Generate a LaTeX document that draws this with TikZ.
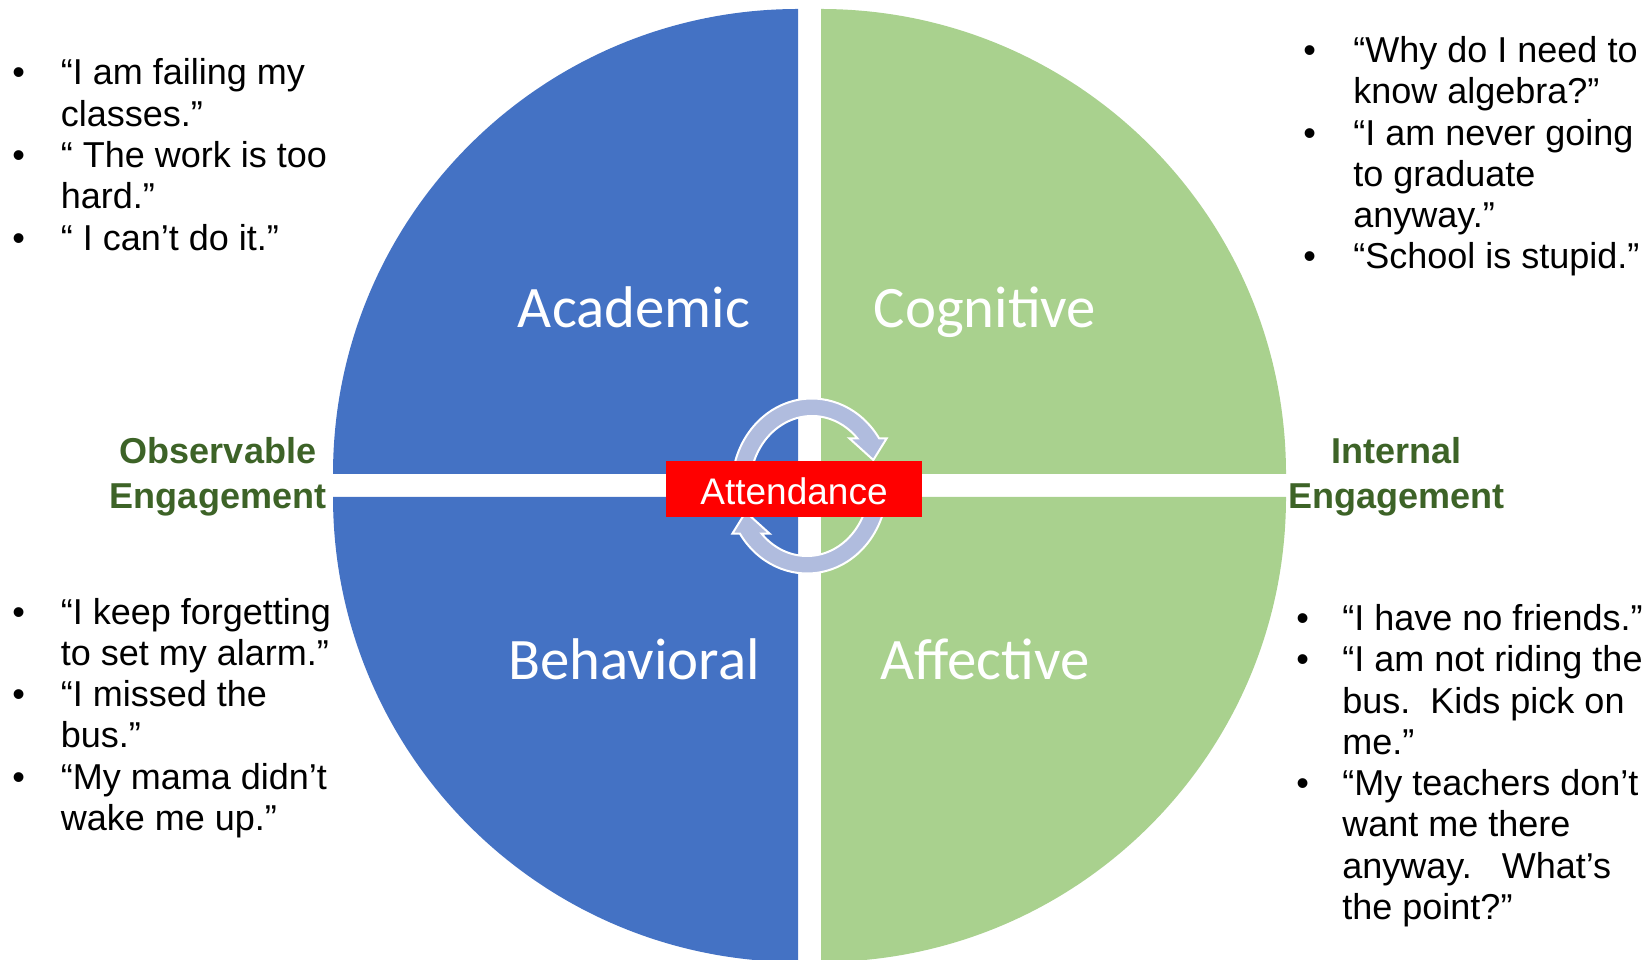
\documentclass[tikz,border=0pt]{standalone}
\usepackage{fontspec}
\setmainfont{Liberation Sans}
\newfontfamily\calibri{Carlito}
\usepackage{tikz}

\definecolor{acadblue}{HTML}{4472C4}
\definecolor{cogngreen}{HTML}{A9D18E}
\definecolor{sidegreen}{RGB}{61,99,39}
\definecolor{cyclefill}{RGB}{176,188,222}

\begin{document}
\begin{tikzpicture}[x=0.5pt,y=0.5pt,
    qlabel/.style={anchor=base,inner sep=0pt,text=white,font=\calibri\fontsize{29.4}{34}\selectfont},
    side/.style={anchor=base,inner sep=0pt,text=sidegreen,font=\bfseries\fontsize{18}{22.5}\selectfont},
    quote/.style={anchor=base west,inner sep=0pt,font=\fontsize{18}{20.65}\selectfont},
    cycle arrow/.style={fill=cyclefill,draw=white,line width=1pt,line join=miter}]
  \useasboundingbox (0,0) rectangle (1652,959);
  % four quarters
  \fill[acadblue] (798,485) -- ++(-465,0) arc[start angle=180,end angle=90,radius=232.5pt] -- cycle;
  \fill[cogngreen] (821,485) -- ++(0,465) arc[start angle=90,end angle=0,radius=232.5pt] -- cycle;
  \fill[acadblue] (798,462) -- ++(0,-465) arc[start angle=270,end angle=180,radius=232.5pt] -- cycle;
  \fill[cogngreen] (821,462) -- ++(465,0) arc[start angle=0,end angle=-90,radius=232.5pt] -- cycle;
  \node[qlabel] (acad) at (634,631) {Academic};
  \node[qlabel] (cogn) at (985,631) {Cognitive};
  \node[qlabel] (behav) at (634,279.5) {Behavioral};
  \node[qlabel] (affect) at (985,279.5) {Affective};
  % the two turning arrows
  \foreach \turn in {0,180}
    \draw[cycle arrow,shift={(809.5,473)},rotate=\turn] (-76.28,-15.19)
      arc[start angle=190,end angle=33,x radius=40pt,y radius=43.75pt]
      -- (77.2,47.7) -- (63.8,26) -- (39.8,47.7) -- (47.87,47.7)
      arc[start angle=42.96,end angle=190,x radius=31pt,y radius=35pt] -- cycle;
  \node[fill=red,text=white,minimum width=128pt,minimum height=28pt,inner sep=0pt,
    text height=16pt,font=\fontsize{18.5}{22}\selectfont] (attend) at (794,470) {Attendance};
  % side labels
  \node[side] (observ) at (218,495) {\begin{tabular}[t]{@{}c@{}}Observable\\Engagement\end{tabular}};
  \node[side] (intern) at (1396,495) {\begin{tabular}[t]{@{}c@{}}Internal\\Engagement\end{tabular}};
  % what the students say
  \node[quote] (acadq) at (12,874) {\begin{tabular}[t]{@{}p{24.25pt}@{}l@{}}
    \textbullet & “I am failing my\\
     & classes.”\\
    \textbullet & “ The work is too\\
     & hard.”\\
    \textbullet & “ I can’t do it.”
  \end{tabular}};
  \node[quote] (cognq) at (1303,896.5) {\begin{tabular}[t]{@{}p{25pt}@{}l@{}}
    \textbullet & “Why do I need to\\
     & know algebra?”\\
    \textbullet & “I am never going\\
     & to graduate\\
     & anyway.”\\
    \textbullet & “School is stupid.”
  \end{tabular}};
  \node[quote] (behavq) at (12,335) {\begin{tabular}[t]{@{}p{24.25pt}@{}l@{}}
    \textbullet & “I keep forgetting\\
     & to set my alarm.”\\
    \textbullet & “I missed the\\
     & bus.”\\
    \textbullet & “My mama didn’t\\
     & wake me up.”
  \end{tabular}};
  \node[quote] (affectq) at (1296,328.6) {\begin{tabular}[t]{@{}p{23pt}@{}l@{}}
    \textbullet & “I have no friends.”\\
    \textbullet & “I am not riding the\\
     & bus.\ \ Kids pick on\\
     & me.”\\
    \textbullet & “My teachers don’t\\
     & want me there\\
     & anyway.\ \ \ What’s\\
     & the point?”
  \end{tabular}};
\end{tikzpicture}
\end{document}
